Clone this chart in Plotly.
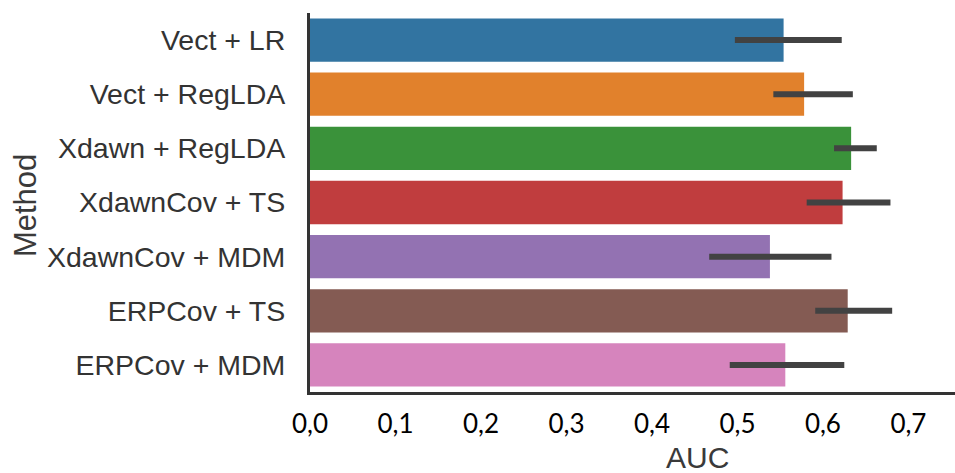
import plotly.graph_objects as go

methods = ["Vect + LR", "Vect + RegLDA", "Xdawn + RegLDA", "XdawnCov + TS",
           "XdawnCov + MDM", "ERPCov + TS", "ERPCov + MDM"]
auc_mean = [0.554, 0.578, 0.633, 0.623, 0.538, 0.629, 0.556]
ci_low = [0.497, 0.542, 0.613, 0.581, 0.467, 0.591, 0.491]
ci_high = [0.622, 0.635, 0.663, 0.679, 0.610, 0.681, 0.625]
colors = ["#3274a1", "#e1812c", "#3a923a", "#c03d3e", "#9372b2", "#845b53", "#d684bd"]
xticks = [0.0, 0.1, 0.2, 0.3, 0.4, 0.5, 0.6, 0.7]

err_plus = [h - m for h, m in zip(ci_high, auc_mean)]
err_minus = [m - l for m, l in zip(auc_mean, ci_low)]

fig = go.Figure()
fig.add_trace(go.Bar(
    y=methods, x=auc_mean, orientation="h", width=0.8,
    marker=dict(color=colors, line=dict(width=0)),
    error_x=dict(type="data", symmetric=False, array=err_plus, arrayminus=err_minus,
                 color="#424242", thickness=6, width=0),
    showlegend=False,
))

fig.update_layout(
    width=955, height=473,
    margin=dict(l=310, r=0, t=13, b=81),
    paper_bgcolor="white", plot_bgcolor="white",
    separators=", ",
    font=dict(family="Liberation Sans, Arial, sans-serif", color="#333333"),
    xaxis=dict(range=[0, 0.7545], tickvals=xticks, tickformat=".1f",
               showgrid=False, zeroline=False, showline=True, linewidth=3,
               linecolor="#333333", ticks="", ticklabelstandoff=7,
               tickfont=dict(family="Lato, sans-serif", size=26, color="#000000")),
    yaxis=dict(range=[6.5, -0.5], showgrid=False, zeroline=False, showline=True,
               linewidth=3, linecolor="#333333", ticks="", ticklabelstandoff=16,
               tickfont=dict(size=28.5, color="#333333")),
)

fig.add_annotation(text="AUC", xref="paper", yref="paper", x=0.601, y=-0.174,
                   showarrow=False, xanchor="center", yanchor="middle",
                   font=dict(size=30, color="#3a3a3a"))
fig.add_annotation(text="Method", xref="paper", yref="paper", x=-0.442, y=0.493,
                   showarrow=False, xanchor="center", yanchor="middle", textangle=-90,
                   font=dict(size=31, color="#3a3a3a"))

fig.write_html("out.html", config={"displayModeBar": False},
               post_script="document.body.style.margin='0';document.body.style.overflow='hidden';")
